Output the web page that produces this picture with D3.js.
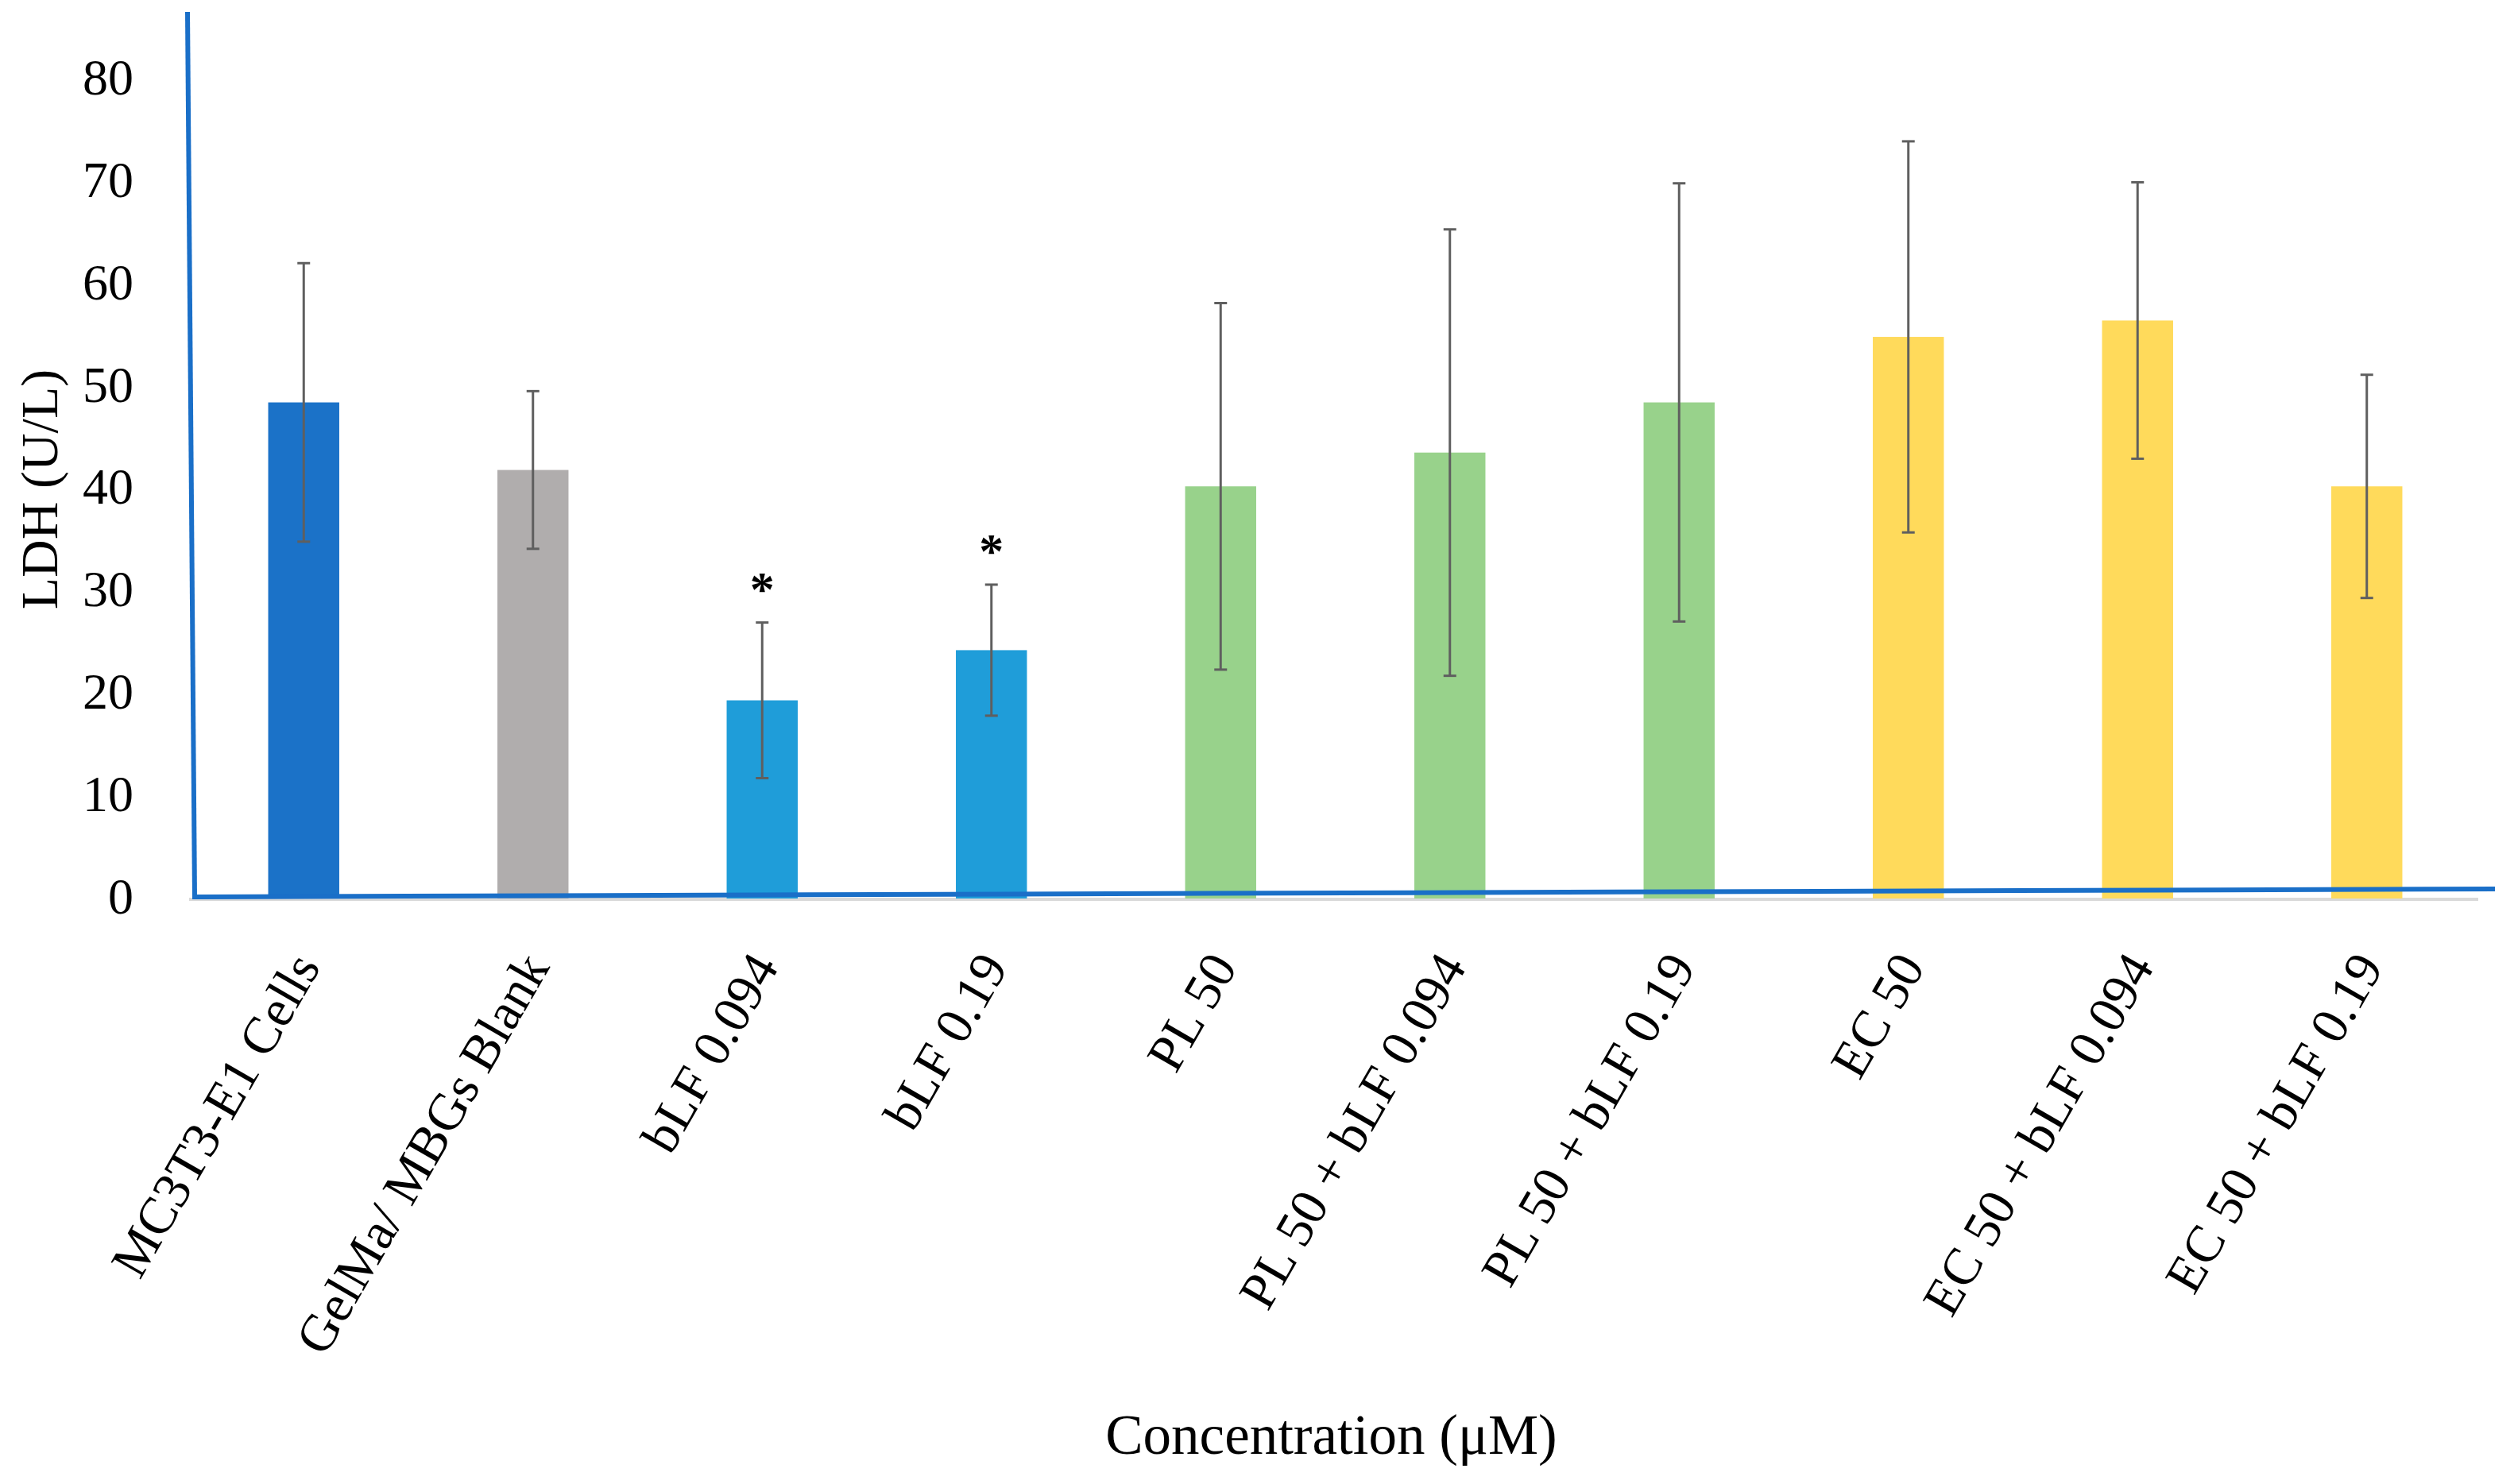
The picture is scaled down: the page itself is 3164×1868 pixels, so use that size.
<!DOCTYPE html>
<html>
<head>
<meta charset="utf-8">
<script src="https://cdn.jsdelivr.net/npm/d3@7"></script>
<style>
  html, body { margin: 0; padding: 0; background: #fff; }
  svg text { font-family: "Liberation Serif", "Times New Roman", serif; fill: #000; }
</style>
</head>
<body>
<div id="chart"></div>
<script>
// data
const categories = [
  "MC3T3-E1 Cells", "GelMa/ MBGs Blank", "bLF 0.094", "bLF 0.19", "PL 50",
  "PL 50 + bLF 0.094", "PL 50 + bLF 0.19", "EC 50", "EC 50 + bLF 0.094", "EC 50 + bLF 0.19"
];
const means = [48.3, 41.7, 19.2, 24.1, 40.1, 43.4, 48.3, 54.7, 56.3, 40.1];
const sds = [13.6, 7.7, 7.6, 6.4, 17.9, 21.8, 21.4, 19.1, 13.5, 10.9];
const significant = [false, false, true, true, false, false, false, false, false, false];
const barColors = ["#1b72c8", "#b0adad", "#1f9dd9", "#1f9dd9", "#98d28b",
  "#98d28b", "#98d28b", "#ffda5b", "#ffda5b", "#ffda5b"];
const yTicks = [0, 10, 20, 30, 40, 50, 60, 70, 80];

const width = 3164, height = 1868;
const x0 = 238, x1 = 3123, yBase = 1129, yTopTick = 98;

const svg = d3.select("#chart").append("svg")
  .attr("width", width).attr("height", height);

const x = d3.scaleBand(categories, [x0, x1])
  .paddingInner(0.69)
  .paddingOuter(0.345);
const y = d3.scaleLinear([0, 80], [yBase, yTopTick]);

// y axis labels only (no ticks, no domain)
const yAxis = svg.append("g")
  .attr("transform", `translate(${x0},0)`)
  .call(d3.axisLeft(y).tickValues(yTicks).tickSize(0).tickPadding(70));
yAxis.select(".domain").remove();
yAxis.selectAll("text")
  .style("font-family", "Liberation Serif, serif")
  .style("font-size", "64px");

// excel's grey category axis line
svg.append("line")
  .attr("x1", x0).attr("x2", x1 - 4)
  .attr("y1", y(0) + 3).attr("y2", y(0) + 3)
  .attr("stroke", "#d9d9d9").attr("stroke-width", 4);

// bars
svg.append("g").selectAll("rect")
  .data(categories)
  .join("rect")
  .attr("x", d => x(d))
  .attr("width", x.bandwidth())
  .attr("y", (d, i) => y(means[i]))
  .attr("height", (d, i) => y(0) - y(means[i]) + 2)
  .attr("fill", (d, i) => barColors[i]);

// error bars
const cap = 8;
const err = svg.append("g")
  .attr("stroke", "#5f5f5f")
  .attr("stroke-width", 3);
categories.forEach((c, i) => {
  const cx = x(c) + x.bandwidth() / 2;
  const hi = y(means[i] + sds[i]), lo = y(means[i] - sds[i]);
  err.append("line").attr("x1", cx).attr("x2", cx).attr("y1", hi).attr("y2", lo);
  err.append("line").attr("x1", cx - cap).attr("x2", cx + cap).attr("y1", hi).attr("y2", hi);
  err.append("line").attr("x1", cx - cap).attr("x2", cx + cap).attr("y1", lo).attr("y2", lo);
});

// significance stars
svg.append("g").selectAll("text")
  .data(categories.filter((c, i) => significant[i]))
  .join("text")
  .attr("x", c => x(c) + x.bandwidth() / 2)
  .attr("y", c => { const i = categories.indexOf(c); return y(means[i] + sds[i]) - 22; })
  .attr("text-anchor", "middle")
  .style("font-size", "62px")
  .style("font-weight", "bold")
  .text("*");

// hand drawn blue axis lines on top
svg.append("line")
  .attr("x1", x0 - 2).attr("y1", 15)
  .attr("x2", x0 + 7).attr("y2", y(0))
  .attr("stroke", "#1a6fc8").attr("stroke-width", 6);
svg.append("line")
  .attr("x1", x0 + 4).attr("y1", y(0))
  .attr("x2", x1 + 17).attr("y2", y(0) - 10)
  .attr("stroke", "#1a6fc8").attr("stroke-width", 6);

// rotated category labels
svg.append("g").selectAll("text")
  .data(categories)
  .join("text")
  .attr("transform", c => `translate(${x(c) + x.bandwidth() / 2 + 22},${yBase + 88}) rotate(-60)`)
  .attr("text-anchor", "end")
  .style("font-size", "66px")
  .text(c => c);

// axis titles
svg.append("text")
  .attr("transform", `translate(72,${(yBase + 15) / 2 + 44}) rotate(-90)`)
  .attr("text-anchor", "middle")
  .style("font-size", "66px")
  .text("LDH (U/L)");

svg.append("text")
  .attr("x", (x0 + x1) / 2 - 5)
  .attr("y", 1830)
  .attr("text-anchor", "middle")
  .style("font-size", "71px")
  .text("Concentration (μM)");
</script>
</body>
</html>
